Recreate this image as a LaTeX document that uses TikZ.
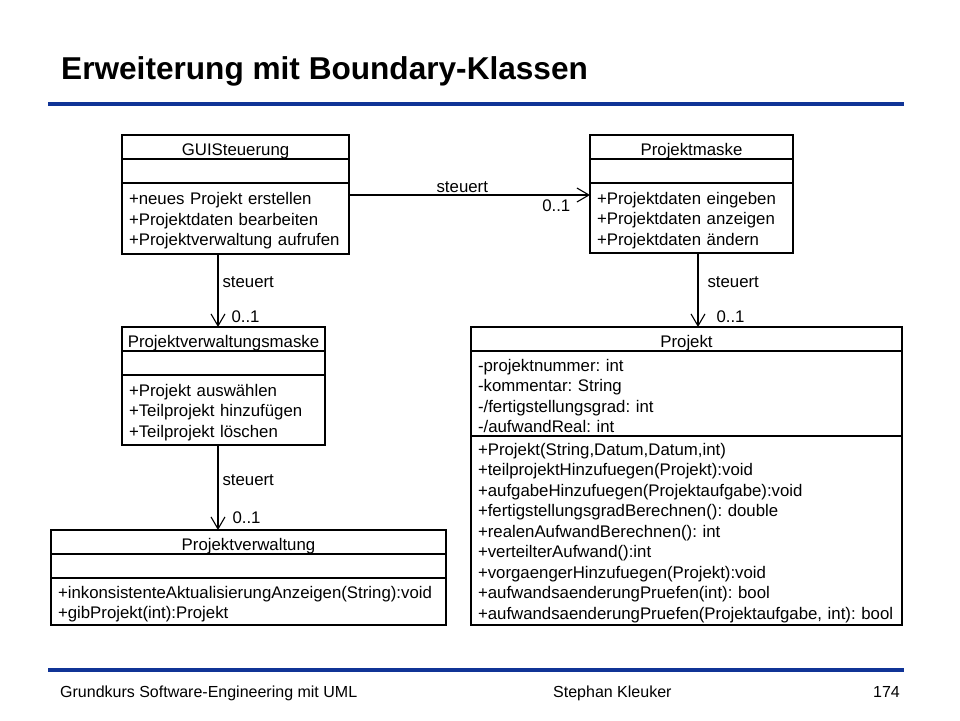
\documentclass[tikz,border=0pt]{standalone}
\usepackage{fontspec}
\setmainfont{Liberation Sans}
\usetikzlibrary{arrows.meta}
\definecolor{slideblue}{RGB}{16,52,150}
\newcommand{\classfont}{\fontsize{16.8}{20.5}\selectfont\frenchspacing}

\begin{document}
\begin{tikzpicture}[x=1pt,y=-1pt]
      \tikzstyle{cname} = [rectangle, draw, line width=1.1pt, outer sep=0pt, inner sep=0pt, minimum height=24pt, text height=16.5pt, text depth=0pt, anchor=north west, font=\classfont]
      \tikzstyle{cpart} = [rectangle, draw, line width=1.1pt, outer sep=0pt, inner xsep=7pt, inner ysep=0pt, text height=17pt, align=left, anchor=north, font=\classfont]
      \tikzstyle{assoc} = [line width=1.1pt, -{Straight Barb[length=12pt,width=14pt]}]
      \tikzstyle{lbl} = [font=\classfont]
      \useasboundingbox (0,0) rectangle (960,720);
      % title and footer
      \node (title) [anchor=base west, inner sep=0pt, font=\bfseries\fontsize{31.6}{32}\selectfont] at (61,79) {Erweiterung mit Boundary-Klassen};
      \draw [slideblue, line width=3.2pt] (48,104) -- (904,104);
      \draw [slideblue, line width=3.2pt] (48,670) -- (904,670);
      \node (course) [anchor=base west, inner sep=0pt, font=\fontsize{16}{17}\selectfont] at (60,697) {Grundkurs Software-Engineering mit UML};
      \node (author) [anchor=base west, inner sep=0pt, font=\fontsize{16}{17}\selectfont] at (553,697) {Stephan Kleuker};
      \node (page) [anchor=base east, inner sep=0pt, font=\fontsize{16}{17}\selectfont] at (900,697) {174};
      % GUISteuerung
      \node (guiN) [cname, minimum width=227pt] at (122,135) {GUISteuerung};
      \node (guiA) [cpart, text width=213pt, minimum height=24pt] at (guiN.south) {};
      \node (guiO) [cpart, text width=213pt, minimum height=71pt] at (guiA.south) {+neues Projekt erstellen\\+Projektdaten bearbeiten\\+Projektverwaltung aufrufen};
      % Projektmaske
      \node (pmN) [cname, minimum width=203pt] at (590,135) {Projektmaske};
      \node (pmA) [cpart, text width=189pt, minimum height=24pt] at (pmN.south) {};
      \node (pmO) [cpart, text width=189pt, minimum height=70pt] at (pmA.south) {+Projektdaten eingeben\\+Projektdaten anzeigen\\+Projektdaten ändern};
      % Projektverwaltungsmaske
      \node (pvmN) [cname, minimum width=203pt] at (122,327) {Projektverwaltungsmaske};
      \node (pvmA) [cpart, text width=189pt, minimum height=24pt] at (pvmN.south) {};
      \node (pvmO) [cpart, text width=189pt, minimum height=70pt] at (pvmA.south) {+Projekt auswählen\\+Teilprojekt hinzufügen\\+Teilprojekt löschen};
      % Projekt
      \node (projN) [cname, minimum width=431pt] at (471,327) {Projekt};
      \node (projA) [cpart, text width=417pt, minimum height=85pt] at (projN.south) {-projektnummer: int\\-kommentar: String\\-/fertigstellungsgrad: int\\-/aufwandReal: int};
      \node (projO) [cpart, text width=417pt, minimum height=189pt] at (projA.south) {+Projekt(String,Datum,Datum,int)\\+teilprojektHinzufuegen(Projekt):void\\+aufgabeHinzufuegen(Projektaufgabe):void\\+fertigstellungsgradBerechnen(): double\\+realenAufwandBerechnen(): int\\+verteilterAufwand():int\\+vorgaengerHinzufuegen(Projekt):void\\+aufwandsaenderungPruefen(int): bool\\+aufwandsaenderungPruefen(Projektaufgabe, int): bool};
      % Projektverwaltung
      \node (pvN) [cname, minimum width=395pt] at (51,530) {Projektverwaltung};
      \node (pvA) [cpart, text width=381pt, minimum height=24pt] at (pvN.south) {};
      \node (pvO) [cpart, text width=381pt, minimum height=47pt] at (pvA.south) {+inkonsistenteAktualisierungAnzeigen(String):void\\+gibProjekt(int):Projekt};
      % associations
      \draw [assoc] ([yshift=-12pt]guiO.north east) -- node[pos=0.47, above, inner sep=2pt, lbl]{steuert} node[pos=0.86, below, inner sep=4pt, lbl]{0..1} ([yshift=-12pt]guiO.north east -| pmO.west);
      \draw [assoc] ([xshift=96pt]guiO.south west) -- node[pos=0.38, right, inner sep=4pt, lbl]{steuert} node[pos=0.86, right, xshift=9pt, inner sep=4pt, lbl]{0..1} ([xshift=96pt]guiO.south west |- pvmN.north);
      \draw [assoc] ([xshift=108pt]pmO.south west) -- node[pos=0.39, right, xshift=5pt, inner sep=4pt, lbl]{steuert} node[pos=0.86, right, xshift=14pt, inner sep=4pt, lbl]{0..1} ([xshift=108pt]pmO.south west |- projN.north);
      \draw [assoc] ([xshift=96pt]pvmO.south west) -- node[pos=0.41, right, inner sep=4pt, lbl]{steuert} node[pos=0.86, right, xshift=10pt, inner sep=4pt, lbl]{0..1} ([xshift=96pt]pvmO.south west |- pvN.north);
    \end{tikzpicture}
\end{document}
